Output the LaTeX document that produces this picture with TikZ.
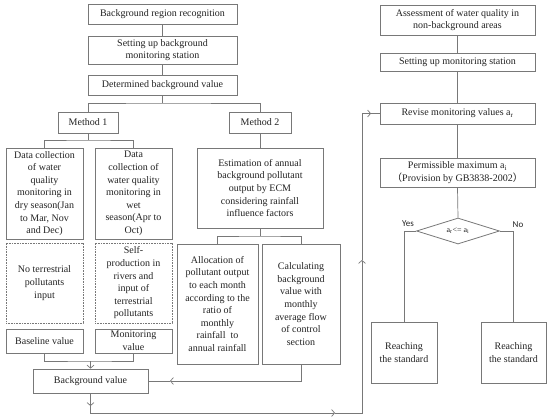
\documentclass[tikz,border=0pt]{standalone}
\usepackage{fontspec}
\setmainfont{Liberation Serif}
\newfontfamily\cjk{Noto Sans CJK SC}
\newfontfamily\labfont{Carlito}
\usetikzlibrary{shapes.geometric,arrows.meta}
\definecolor{lc}{RGB}{120,120,120}
\definecolor{tc}{RGB}{35,35,35}
\begin{document}
\begin{tikzpicture}[x=1pt,y=-1pt,
  box/.style={draw=lc,line width=0.8pt,inner sep=0pt,align=center,text=tc,
    font=\fontsize{10}{12.6}\selectfont},
  dbox/.style={box,dash pattern=on 0.8pt off 0.8pt},
  conn/.style={draw=lc,line width=0.7pt},
  arr/.style={conn,-{Straight Barb[length=3pt,width=7pt]}},
  lab/.style={font=\labfont\fontsize{9}{10}\selectfont,text=tc,inner sep=0pt}]
\useasboundingbox (0,0) rectangle (550,420);
\fill[white] (0,0) rectangle (550,420);
% left column
\node[box,minimum width=149pt,minimum height=20pt] (b1) at (162.5,14) {Background region recognition};
\node[box,minimum width=149pt,minimum height=28pt] (b2) at (162.5,50) {Setting up background\\monitoring station};
\node[box,minimum width=149pt,minimum height=20pt] (b3) at (162.5,85) {Determined background value};
\node[box,minimum width=60pt,minimum height=21pt] (m1) at (88,122.5) {Method 1};
\node[box,minimum width=62pt,minimum height=21pt] (m2) at (260,122.5) {Method 2};
\node[box,minimum width=77pt,minimum height=91pt] (dry) at (44.5,193.5) {Data collection\\of water\\quality\\monitoring in\\dry season(Jan\\to Mar, Nov\\and Dec)};
\node[box,minimum width=77pt,minimum height=91pt] (wet) at (133.5,193.5) {Data\\collection of\\water quality\\monitoring in\\wet\\season(Apr to\\Oct)};
\node[dbox,minimum width=77pt,minimum height=80pt] (nd1) at (44.5,283) {No terrestrial\\pollutants\\input};
\node[dbox,minimum width=77pt,minimum height=80pt] (nd2) at (133.5,283) {Self-\\production in\\rivers and\\input of\\terrestrial\\pollutants};
\node[box,minimum width=77pt,minimum height=24pt] (base) at (44.5,341) {Baseline value};
\node[box,minimum width=77pt,minimum height=24pt] (mon) at (133.5,341) {Monitoring\\value};
\node[box,minimum width=115pt,minimum height=24pt] (bg) at (90.5,381) {Background value};
\node[box,minimum width=126pt,minimum height=80pt] (ecm) at (260,188) {Estimation of annual\\background pollutant\\output by ECM\\considering rainfall\\influence factors};
\node[box,minimum width=81pt,minimum height=120pt] (alloc) at (217.5,304) {Allocation of\\pollutant output\\to each month\\according to the\\ratio of\\monthly\\rainfall\ \ to\\annual rainfall};
\node[box,minimum width=78pt,minimum height=120pt] (calc) at (301,304) {Calculating\\background\\value with\\monthly\\average flow\\of control\\section};
% right column
\node[box,minimum width=155pt,minimum height=30pt] (r1) at (457.5,20) {Assessment of water quality in\\non-background areas};
\node[box,minimum width=155pt,minimum height=18pt] (r2) at (457.5,62) {Setting up monitoring station};
\node[box,minimum width=155pt,minimum height=21pt] (r3) at (457.5,113.5) {Revise monitoring values a\textsubscript{r}};
\node[box,minimum width=155pt,minimum height=29pt] (r4) at (457.5,172.5) {Permissible maximum a\textsubscript{i}\\{\cjk（}Provision by GB3838-2002{\cjk）}};
\node[box,shape=diamond,aspect=3.2,minimum width=83pt,minimum height=26pt,font=\fontsize{8}{9}\selectfont] (dia) at (458,231) {a\textsubscript{r}<= a\textsubscript{i}};
\node[box,minimum width=66pt,minimum height=61pt] (y1) at (404,352.5) {Reaching\\the standard};
\node[box,minimum width=65pt,minimum height=61pt] (y2) at (513.5,352.5) {Reaching\\the standard};
\node[lab] (yes) at (408,224) {Yes};
\node[lab] (no) at (518,225) {No};
% coordinates
\coordinate (j1) at (162.5,103);
\coordinate (j2) at (88,140);
\coordinate (j3) at (90.5,361);
\coordinate (j4) at (260,236);
\coordinate (c1) at (170,381);
\coordinate (pa) at (90.5,406);
\coordinate (cA) at (90.5,413);
\coordinate (pb) at (335,413);
\coordinate (cB) at (362,413);
\coordinate (pc) at (362,260);
\coordinate (cC) at (362,113.5);
\coordinate (pd) at (371,113.5);
% connectors
\draw[conn] (b1) -- (b2);
\draw[conn] (b2) -- (b3);
\draw[conn] (b3.south) -- (j1);
\draw[conn] (m1.north) |- (j1) -| (m2.north);
\draw[conn] (m1.south) -- (j2);
\draw[conn] (dry.north) |- (j2) -| (wet.north);
\draw[conn] (base.south) |- (j3) -| (mon.south);
\draw[arr] (j3) -- (bg.north);
\draw[conn] (m2.south) -- (ecm.north);
\draw[conn] (ecm.south) -- (j4);
\draw[conn] (alloc.north) |- (j4) -| (calc.north);
\draw[arr] (calc.south) |- (c1);
\draw[conn] (c1) -- (bg.east);
\draw[arr] (bg.south) -- (pa);
\draw[arr] (pa) -- (cA) -- (pb);
\draw[arr] (pb) -- (cB) -- (pc);
\draw[arr] (pc) -- (cC) -- (pd);
\draw[conn] (pd) -- (r3.west);
\draw[conn] (r1) -- (r2);
\draw[conn] (r2) -- (r3);
\draw[conn] (r3) -- (r4);
\draw[conn] (r4.south) -- (dia.north);
\draw[conn] (dia.west) -| (y1.north);
\draw[conn] (dia.east) -| (y2.north);
\end{tikzpicture}
\end{document}
